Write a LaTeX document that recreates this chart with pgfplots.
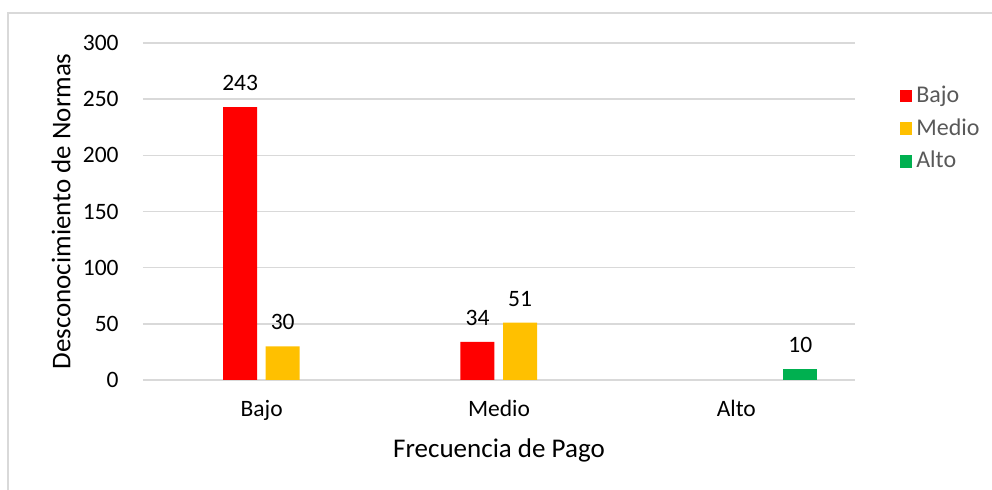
\documentclass[border=0pt]{standalone}
\usepackage{pgfplots}
\pgfplotsset{compat=1.18}
\usepackage{fontspec}
\setmainfont{Carlito}
\definecolor{cRed}{HTML}{FF0000}
\definecolor{cYel}{HTML}{FFC000}
\definecolor{cGrn}{HTML}{00B050}
\definecolor{cGrid}{HTML}{D9D9D9}
\definecolor{cLeg}{HTML}{595959}
\begin{document}
\begin{tikzpicture}
\useasboundingbox (-71.5pt,-55pt) rectangle (424.5pt,190pt);
\draw[cGrid, line width=0.75pt] (-67.5pt,-55pt) -- (-67.5pt,183.5pt) -- (424.5pt,183.5pt);
\begin{axis}[
  at={(0,0)}, anchor=south west,
  scale only axis, width=356pt, height=168.5pt,
  xmin=-0.5, xmax=2.5, ymin=0, ymax=300,
  xtick={0,1,2}, xticklabels={Bajo,Medio,Alto},
  ytick={0,50,...,300},
  /pgf/number format/assume math mode=true,
  axis y line*=left, axis x line*=bottom,
  y axis line style={draw=none},
  x axis line style={cGrid, line width=0.75pt, -},
  ymajorgrids, grid style={cGrid, line width=0.75pt},
  major tick length=0pt,
  tick label style={font=\fontsize{11.75pt}{13pt}\selectfont, black},
  yticklabel style={anchor=east, inner sep=0pt, xshift=-12pt},
  xticklabel style={anchor=north, inner sep=0pt, yshift=-10pt},
  xlabel={Frecuencia de Pago},
  ylabel={Desconocimiento de Normas},
  label style={font=\fontsize{13.5pt}{15pt}\selectfont, black},
  xlabel style={at={(axis description cs:0.5,0)}, anchor=north, inner sep=0pt, yshift=-29pt},
  ylabel style={at={(axis description cs:0,0.5)}, anchor=south, inner sep=0pt, yshift=36pt},
  ybar, bar width=17pt,
  nodes near coords,
  every node near coord/.append style={font=\fontsize{11.75pt}{13pt}\selectfont, black, anchor=south, inner sep=0pt, yshift=8pt},
  legend style={at={(axis description cs:1.062,0.885)}, anchor=north west, draw=none, fill=none,
    font=\fontsize{12pt}{13pt}\selectfont, text=cLeg, row sep=2.5pt, inner sep=0pt},
  legend cell align=left,
  legend image code/.code={\fill[#1] (0pt,-3.2pt) rectangle (6.4pt,3.2pt);},
]
\addplot[fill=cRed, draw=none, bar shift=-10.75pt] coordinates {(0,243) (1,34)};
\addplot[fill=cYel, draw=none, bar shift=10.5pt] coordinates {(0,30) (1,51)};
\addplot[fill=cGrn, draw=none, bar shift=32pt] coordinates {(2,10)};
\legend{Bajo,Medio,Alto}
\end{axis}
\end{tikzpicture}
\end{document}
